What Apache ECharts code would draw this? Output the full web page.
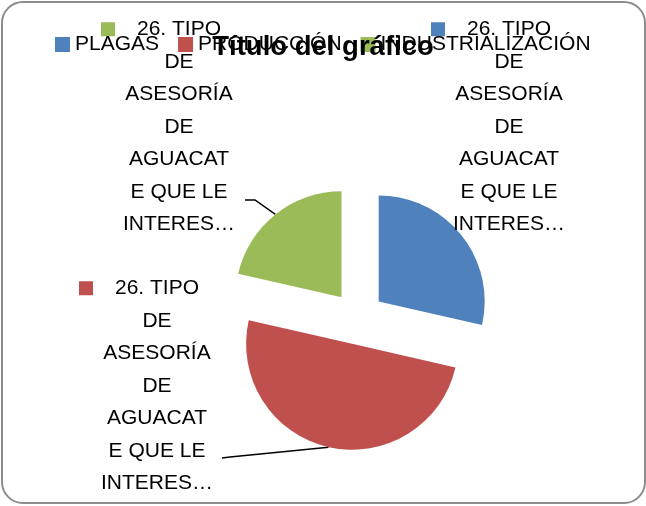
<!DOCTYPE html>
<html>
<head>
<meta charset="utf-8">
<script src="https://cdn.jsdelivr.net/npm/echarts@6/dist/echarts.min.js"></script>
<style>
  html, body { margin: 0; padding: 0; background: #fff; }
  #chart { position: absolute; left: 0; top: 0; width: 646px; height: 506px; }
  #frame { position: absolute; left: 1px; top: 1px; width: 641px; height: 499px;
           border: 2px solid #8c8c8c; border-radius: 22px; pointer-events: none; }
</style>
</head>
<body>
<div id="chart"></div>
<div id="frame"></div>
<script>
// datos del gráfico
const categories = ['PLAGAS', 'PRODUCCIÓN', 'INDUSTRIALIZACIÓN'];
const values     = [4, 7, 3];
const colors     = ['#4F81BD', '#C0504D', '#9BBB59'];
// nombre de la serie, cortado como en Excel
const labelLines = ['26. TIPO', 'DE', 'ASESORÍA', 'DE', 'AGUACAT', 'E QUE LE', 'INTERES…'];

const FONT = '"Liberation Sans", Arial, sans-serif';
const CENTER = [358, 318];
const RADIUS = 106;
const EXPLODE = 26.5;

// posición de cada etiqueta (centro x, borde superior y)
const labelPos = [
  { x: 509, y: 13 },
  { x: 157, y: 272 },
  { x: 179, y: 13 },
];
// tramo final de la línea guía, del lado de la etiqueta
const lineEnds = [
  null,
  [[230, 457], [222, 458]],
  [[255, 200], [245, 200]],
];

const rich = {
  gap:  { width: 22 },
  gap2: { width: 36 },
};
colors.forEach((c, i) => {
  rich['sq' + i] = { width: 14, height: 14, backgroundColor: c };
});

// punto del borde del sector desplazado (la serie de etiquetas no está separada)
function explodedPoint(p) {
  const dx = p[0] - CENTER[0], dy = p[1] - CENTER[1];
  const len = Math.sqrt(dx * dx + dy * dy) || 1;
  return [p[0] + dx / len * EXPLODE, p[1] + dy / len * EXPLODE];
}

const chart = echarts.init(document.getElementById('chart'));

chart.setOption({
  animation: false,
  title: {
    text: 'Título del gráfico',
    left: 'center',
    top: 28,
    textStyle: { fontFamily: FONT, fontSize: 27.5, fontWeight: 'bold', color: '#000' },
  },
  legend: {
    data: categories,
    left: 50,
    top: 29,
    icon: 'rect',
    itemWidth: 15,
    itemHeight: 15,
    itemGap: 19,
    selectedMode: false,
    textStyle: { fontFamily: FONT, fontSize: 21, color: '#000' },
  },
  series: [
    {
      // sectores separados
      type: 'pie',
      center: CENTER,
      radius: RADIUS,
      startAngle: 90,
      clockwise: true,
      selectedMode: 'multiple',
      selectedOffset: EXPLODE,
      emphasis: { disabled: true },
      itemStyle: { borderWidth: 0 },
      label: { show: false },
      labelLine: { show: false },
      data: categories.map((name, i) => ({
        name,
        value: values[i],
        selected: true,
        itemStyle: { color: colors[i] },
      })),
    },
    {
      // solo etiquetas
      type: 'pie',
      center: CENTER,
      radius: RADIUS,
      startAngle: 90,
      clockwise: true,
      silent: true,
      selectedMode: false,
      avoidLabelOverlap: false,
      emphasis: { disabled: true },
      itemStyle: { color: 'rgba(0,0,0,0)', borderWidth: 0 },
      data: categories.map((name, i) => ({
        name,
        value: values[i],
        labelLine: { show: i !== 0 },
      })),
      label: {
        show: true,
        position: 'outside',
        color: '#000',
        fontFamily: FONT,
        fontSize: 21,
        lineHeight: 32.5,
        align: 'center',
        formatter: p => labelLines.map((s, k) =>
          k === 0 ? `{sq${p.dataIndex}| }{gap| }${s}{gap2| }` : s
        ).join('\n'),
        rich,
      },
      labelLine: {
        show: true,
        length: 10,
        length2: 10,
        lineStyle: { color: '#000', width: 1.5 },
      },
      labelLayout: params => {
        const i = params.dataIndex;
        const res = { x: labelPos[i].x, y: labelPos[i].y, align: 'center', verticalAlign: 'top' };
        if (lineEnds[i] && params.labelLinePoints) {
          res.labelLinePoints = [explodedPoint(params.labelLinePoints[0]), ...lineEnds[i]];
        }
        return res;
      },
    },
  ],
});
</script>
</body>
</html>
